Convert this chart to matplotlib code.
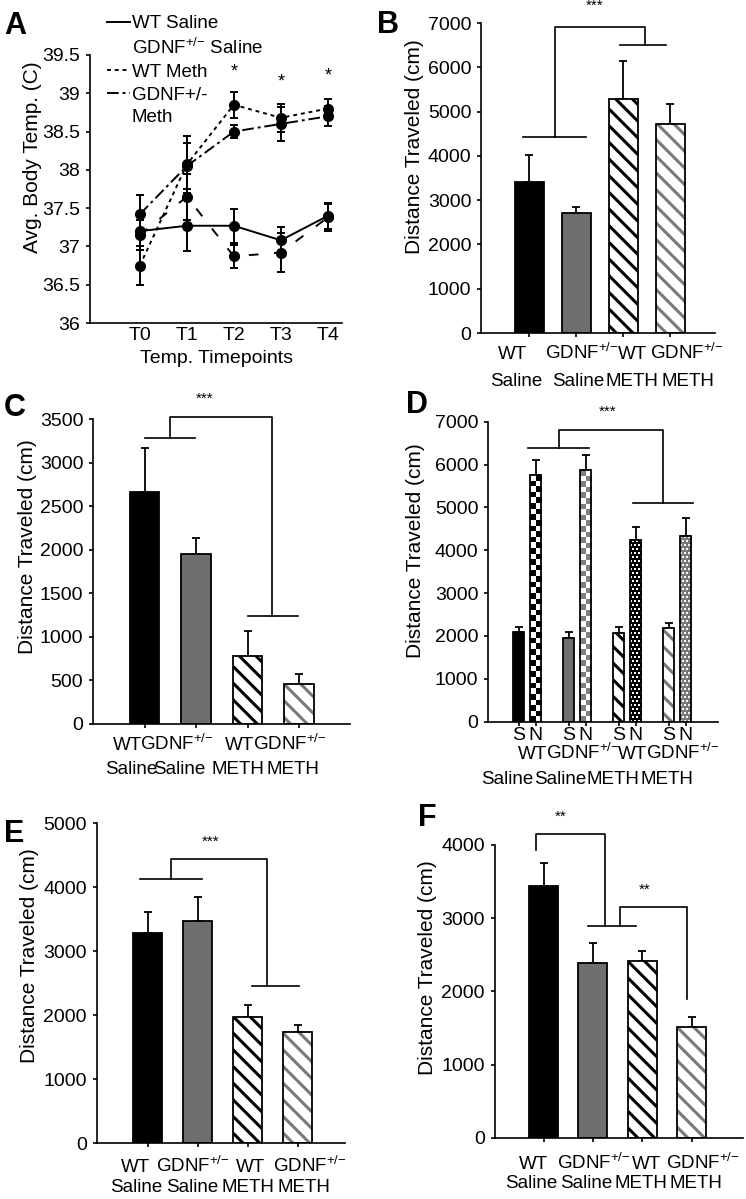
import numpy as np
import matplotlib
matplotlib.use("Agg")
import matplotlib.pyplot as plt
from matplotlib.colors import ListedColormap
from matplotlib.lines import Line2D
from matplotlib.transforms import blended_transform_factory

W, H = 746, 1199
plt.rcParams["font.family"] = ["Liberation Sans", "DejaVu Sans"]
plt.rcParams["mathtext.fontset"] = "custom"
plt.rcParams["mathtext.rm"] = "Liberation Sans"
plt.rcParams["mathtext.default"] = "regular"
plt.rcParams["hatch.linewidth"] = 2.2
plt.rcParams["axes.linewidth"] = 1.2

# ---------------- data ----------------
timepoints = ["T0", "T1", "T2", "T3", "T4"]
temp_wt_saline = [37.2, 37.27, 37.27, 37.08, 37.4]
temp_wt_saline_err = [0.25, 0.33, 0.22, 0.18, 0.17]
temp_gdnf_saline = [37.15, 37.65, 36.87, 36.92, 37.38]
temp_gdnf_saline_err = [0.2, 0.3, 0.15, 0.25, 0.18]
temp_wt_meth = [36.75, 38.07, 38.85, 38.68, 38.8]
temp_wt_meth_err = [0.25, 0.37, 0.17, 0.18, 0.13]
temp_gdnf_meth = [37.42, 38.05, 38.5, 38.6, 38.7]
temp_gdnf_meth_err = [0.25, 0.3, 0.08, 0.22, 0.13]
temp_sig_idx = [2, 3, 4]
temp_sig_y = [39.28, 39.15, 39.22]

SUP = "GDNF$^{+/{-}}$"
genotypes = ["WT", SUP, "WT", SUP]
treatments = ["Saline", "Saline", "METH", "METH"]

b_mean = [3400, 2720, 5280, 4720]
b_err = [630, 135, 860, 440]
c_mean = [2665, 1950, 780, 455]
c_err = [500, 180, 290, 115]
d_s_mean = [2085, 1960, 2075, 2185]
d_s_err = [115, 125, 125, 110]
d_n_mean = [5755, 5870, 4240, 4340]
d_n_err = [350, 350, 310, 405]
e_mean = [3290, 3475, 1980, 1745]
e_err = [330, 370, 180, 105]
f_mean = [3445, 2390, 2415, 1515]
f_err = [315, 275, 135, 140]

# bar styles: (face, hatch, hatch colour)
GRAY = "#6e6e6e"
styles = [("black", None, None), (GRAY, None, None),
          ("white", "\\\\", "black"), ("white", "\\\\", "#7a7a7a")]
n_patterns = [("checker", "black"), ("checker", "#808080"),
              ("dots", "black"), ("dots", "#7a7a7a")]

TICK_FS = 14
LAB_FS = 13.5


def add_ax(left, top, right, bottom):
    return fig.add_axes([left / W, 1 - bottom / H, (right - left) / W, (bottom - top) / H])


def style_ax(ax):
    ax.spines["top"].set_visible(False)
    ax.spines["right"].set_visible(False)
    ax.tick_params(axis="y", length=3, width=1.2, pad=4, labelsize=TICK_FS)
    ax.tick_params(axis="x", length=3, width=1.2, labelsize=TICK_FS)


def draw_bars(ax, x, means, errs, width):
    bars = []
    for xi, m, e, (face, hatch, hcol) in zip(x, means, errs, styles):
        b = ax.bar(xi, m, width, color=face, hatch=hatch,
                   edgecolor=hcol if hcol else face, linewidth=0, zorder=2)[0]
        ax.bar(xi, m, width, fill=False, edgecolor="black", linewidth=1.3, zorder=3)
        ax.errorbar(xi, m, yerr=[[0], [e]], fmt="none", ecolor="black",
                    elinewidth=1.3, capsize=3, capthick=1.3, zorder=1)
        bars.append(b)
    return bars


def pattern_fill(ax, bar, kind, color):
    x0, y0 = bar.get_x(), bar.get_y()
    x1, y1 = x0 + bar.get_width(), y0 + bar.get_height()
    (px0, py0), (px1, py1) = ax.transData.transform([(x0, y0), (x1, y1)])
    cell = 5.6 if kind == "checker" else 2.0
    ncol = max(1, int(round((px1 - px0) / cell)))
    nrow = max(1, int(round((py1 - py0) / cell)))
    i, j = np.indices((nrow, ncol))
    if kind == "checker":
        mask = (i + j) % 2
    else:
        mask = ((i % 2 == 0) & (j % 2 == (i // 2) % 2)).astype(int)
    im = ax.imshow(mask, extent=(x0, x1, y0, y1), cmap=ListedColormap([color, "white"]),
                   vmin=0, vmax=1, interpolation="nearest", aspect="auto",
                   origin="lower", zorder=2.5)
    im.set_clip_path(bar)


def bracket(ax, spans, links, stars):
    kw = dict(color="black", lw=1.2, clip_on=False, zorder=4)
    for a, b, y in spans:
        ax.plot([a, b], [y, y], **kw)
    for x1, y1, x2, y2, top in links:
        ax.plot([x1, x1, x2, x2], [y1, top, top, y2], **kw)
    for sx, sy, s in stars:
        ax.text(sx, sy, s, ha="center", va="center", fontsize=11, clip_on=False)


def group_labels(ax, rows, ax_height_px):
    # dy = distance (px) from the x axis down to the middle of the capitals
    tr = blended_transform_factory(ax.transData, ax.transAxes)
    for xs, labels, dy in rows:
        for xi, lab in zip(xs, labels):
            ax.text(xi, -(dy + 6.5) / ax_height_px, lab, transform=tr, ha="center",
                    va="baseline", fontsize=LAB_FS)


def ylab(ax, x, y):
    ax.set_ylabel("Distance Traveled (cm)", fontsize=15)
    ax.yaxis.set_label_coords(x, y)


fig = plt.figure(figsize=(W / 100, H / 100), dpi=100)

# ---------------- A ----------------
ax = add_ax(90, 55, 342, 323)
style_ax(ax)
xt = np.arange(len(timepoints))
series = [
    (temp_wt_saline, temp_wt_saline_err, "-"),
    (temp_gdnf_saline, temp_gdnf_saline_err, (0, (5, 8))),
    (temp_wt_meth, temp_wt_meth_err, (0, (2, 2))),
    (temp_gdnf_meth, temp_gdnf_meth_err, (0, (6, 2, 1.5, 2))),
]
for y, e, ls in series:
    ax.errorbar(xt, y, yerr=e, fmt="o", ls=ls, color="black", ms=7, lw=1.4,
                elinewidth=1.4, capsize=3, capthick=1.4)
for i, sy in zip(temp_sig_idx, temp_sig_y):
    ax.text(xt[i], sy, "*", ha="center", va="center", fontsize=13)
ax.set_xlim(-1.06, 4.3)
ax.set_ylim(36, 39.5)
ax.set_yticks(np.arange(36, 39.51, 0.5))
ax.set_yticklabels(["%g" % v for v in np.arange(36, 39.51, 0.5)])
ax.set_xticks(xt)
ax.set_xticklabels(timepoints)
ax.tick_params(axis="x", length=0, pad=3)
ax.set_xlabel("Temp. Timepoints", fontsize=14, labelpad=4)
ax.set_ylabel("Avg. Body Temp. (C)", fontsize=15)
ax.yaxis.set_label_coords(-0.19, 0.62)
handles = [Line2D([], [], color="black", lw=1.4, ls=s[2]) for s in series]
handles[1].set_visible(False)
blank = Line2D([], [], color="none")
leg = ax.legend([handles[0], handles[1], handles[2], handles[3], blank],
                ["WT Saline", SUP + " Saline", "WT Meth", "GDNF+/-", "Meth"],
                loc="upper left", bbox_to_anchor=(98 / W, 1 - 6 / H),
                bbox_transform=fig.transFigure, frameon=False, fontsize=13.5,
                handlelength=1.2, handletextpad=0.1, labelspacing=0.3, borderpad=0)

# ---------------- B ----------------
ax = add_ax(481, 23, 715, 333)
style_ax(ax)
x = np.arange(4)
draw_bars(ax, x, b_mean, b_err, 0.62)
ax.set_xlim(-1.03, 3.95)
ax.set_ylim(0, 7000)
ax.set_yticks(range(0, 7001, 1000))
ax.set_xticks(x)
ax.set_xticklabels([])
ylab(ax, -0.244, 0.6)
bracket(ax, [(-0.14, 1.2, 4418), (1.92, 2.91, 6514)],
        [(0.54, 4418, 2.47, 6514, 6912)], [(1.39, 7400, "***")])
group_labels(ax, [([-0.35, 1.12, 2.2, 3.35], genotypes, 19),
                  ([-0.27, 1.03, 2.18, 3.37], treatments, 46)], 310)

# ---------------- C ----------------
ax = add_ax(93, 419, 350, 724)
style_ax(ax)
draw_bars(ax, x, c_mean, c_err, 0.57)
ax.set_xlim(-1.0, 3.99)
ax.set_ylim(0, 3500)
ax.set_yticks(range(0, 3501, 500))
ax.set_xticks(x)
ax.set_xticklabels([])
ylab(ax, -0.218, 0.58)
bracket(ax, [(0.0, 0.98, 3286), (2.0, 2.98, 1243)],
        [(0.5, 3286, 2.47, 1243, 3527)], [(1.17, 3730, "***")])
group_labels(ax, [([-0.34, 0.62, 1.85, 2.82], genotypes, 19),
                  ([-0.26, 0.67, 1.81, 2.88], treatments, 44)], 305)

# ---------------- D ----------------
ax = add_ax(488, 421.7, 718, 721.7)
style_ax(ax)
ax.set_xlim(-0.78, 3.82)
ax.set_ylim(0, 7000)
ax.set_autoscale_on(False)
xs = x - 0.17
xn = x + 0.17
draw_bars(ax, xs, d_s_mean, d_s_err, 0.23)
for xi, m, e, (kind, col) in zip(xn, d_n_mean, d_n_err, n_patterns):
    b = ax.bar(xi, m, 0.23, color="white", linewidth=0, zorder=2)[0]
    ax.bar(xi, m, 0.23, fill=False, edgecolor="black", linewidth=1.3, zorder=3)
    ax.errorbar(xi, m, yerr=[[0], [e]], fmt="none", ecolor="black",
                elinewidth=1.3, capsize=3, capthick=1.3, zorder=1)
    pattern_fill(ax, b, kind, col)
ax.set_xlim(-0.78, 3.82)
ax.set_ylim(0, 7000)
ax.set_yticks(range(0, 7001, 1000))
ax.set_xticks(np.concatenate([xs, xn]))
ax.set_xticklabels(["S"] * 4 + ["N"] * 4)
ax.tick_params(axis="x", pad=1)
ylab(ax, -0.274, 0.57)
bracket(ax, [(0.02, 1.24, 6376), (2.12, 3.32, 5093)],
        [(0.64, 6376, 2.72, 5093, 6804)], [(1.62, 7232, "***")])
group_labels(ax, [([0.1, 1.12, 2.1, 3.12], genotypes, 31),
                  ([-0.40, 0.66, 1.72, 2.8], treatments, 56)], 300)

# ---------------- E ----------------
ax = add_ax(96.7, 823.3, 345, 1143.3)
style_ax(ax)
draw_bars(ax, x, e_mean, e_err, 0.58)
ax.set_xlim(-1.02, 3.95)
ax.set_ylim(0, 5000)
ax.set_yticks(range(0, 5001, 1000))
ax.set_xticks(x)
ax.set_xticklabels([])
ylab(ax, -0.234, 0.585)
bracket(ax, [(-0.16, 1.08, 4130), (2.08, 3.02, 2458)],
        [(0.47, 4130, 2.38, 2458, 4443)], [(1.25, 4714, "***")])
group_labels(ax, [([-0.25, 0.91, 2.05, 3.25], genotypes, 22),
                  ([-0.23, 0.89, 2.01, 3.13], treatments, 42)], 320)

# ---------------- F ----------------
ax = add_ax(494.7, 845, 743, 1137.7)
style_ax(ax)
draw_bars(ax, x, f_mean, f_err, 0.59)
ax.set_xlim(-0.99, 4.04)
ax.set_ylim(0, 4000)
ax.set_yticks(range(0, 4001, 1000))
ax.set_xticks(x)
ax.set_xticklabels([])
ylab(ax, -0.234, 0.58)
bracket(ax, [(0.9, 1.88, 2897)],
        [(-0.15, 3932, 1.25, 2897, 4150), (1.55, 2897, 2.9, 1890, 3157)],
        [(0.35, 4387, "**"), (2.05, 3394, "**")])
group_labels(ax, [([-0.21, 1.01, 2.09, 3.22], genotypes, 25),
                  ([-0.25, 0.87, 1.97, 3.08], treatments, 44)], 292.7)

# panel letters
for lab, px, py in [("A", 15, 26), ("B", 388, 25), ("C", 15, 408),
                    ("D", 417, 405), ("E", 14, 834), ("F", 427, 818)]:
    fig.text(px / W, 1 - py / H, lab, ha="center", va="center", fontsize=22,
             fontweight="bold")

fig.savefig("out.png", dpi=100)
